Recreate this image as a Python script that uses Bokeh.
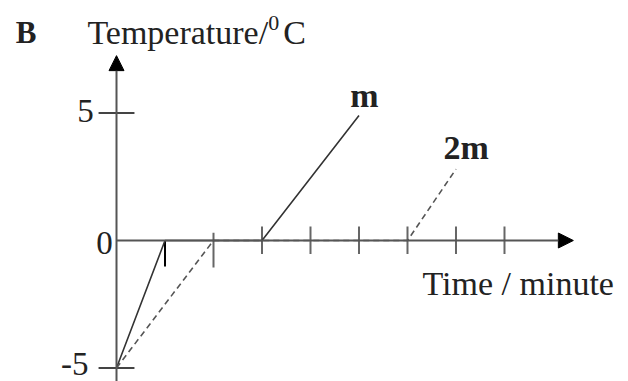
from bokeh.plotting import figure
from bokeh.models import Range1d, Arrow, NormalHead
from bokeh.core.properties import value
from bokeh.embed import file_html
from bokeh.resources import INLINE

# --- data (time in minutes, temperature in deg C) ---
m_time = [0, 1, 3, 5]
m_temp = [-5, 0, 0, 4.9]
m2_time = [0, 2, 6, 7]
m2_temp = [-5, 0, 0, 2.8]
x_ticks = [1, 2, 3, 4, 5, 6, 7, 8]
y_ticks = [5, -5]
y_tick_labels = ["5", "0", "-5"]
y_tick_label_vals = [5, 0, -5]

FONT = value("Liberation Serif")
DY = 0.41  # text baseline correction (data units)

p = figure(width=628, height=381, output_backend="svg", toolbar_location=None,
           x_range=Range1d(-2.392, 10.557), y_range=Range1d(-5.529, 9.412),
           min_border=0, outline_line_color=None)
p.axis.visible = False
p.grid.visible = False

# axes with arrows
p.add_layout(Arrow(x_start=0, y_start=-5.55, x_end=0, y_end=7.25,
                   line_color="#555555", line_width=2,
                   end=NormalHead(size=15, fill_color="black", line_color="black")))
p.add_layout(Arrow(x_start=0, y_start=0, x_end=9.42, y_end=0,
                   line_color="#555555", line_width=2,
                   end=NormalHead(size=15, fill_color="black", line_color="black")))

# y ticks
p.segment(x0=[-0.37] * len(y_ticks), x1=[0.37] * len(y_ticks), y0=y_ticks, y1=y_ticks,
          line_color="#444444", line_width=2)
# x ticks
tick_top = [0.0, 0.3] + [0.55] * (len(x_ticks) - 2)
tick_bot = [-1.02, -1.06] + [-0.53] * (len(x_ticks) - 2)
tick_col = ["black"] + ["#666666"] * (len(x_ticks) - 1)
p.segment(x0=x_ticks, x1=x_ticks, y0=tick_top, y1=tick_bot,
          line_color=tick_col, line_width=2)

# data lines
p.line(m_time, m_temp, line_color="#333333", line_width=1.6)
p.line(m2_time, m2_temp, line_color="#555555", line_width=1.6, line_dash="6 4")

# tick labels
label_x = [-0.47, -0.08, -0.58]
label_dy = [-0.33, -0.49, -0.25]
p.text(x=label_x, y=[v + d + DY for v, d in zip(y_tick_label_vals, label_dy)], text=y_tick_labels,
       text_font=FONT, text_font_size="33px", text_align="right",
       text_baseline="alphabetic", text_color="#222222")

# titles / labels
p.text(x=[-2.08], y=[7.76 + DY], text=["B"], text_font=FONT, text_font_size="31px",
       text_font_style="bold", text_baseline="alphabetic", text_color="#222222")
p.text(x=[-0.60], y=[7.73 + DY], text=["Temperature/"], text_font=FONT, text_font_size="34px",
       text_baseline="alphabetic", text_color="#222222")
p.text(x=[3.13], y=[8.12 + DY], text=["0"], text_font=FONT, text_font_size="22px",
       text_baseline="alphabetic", text_color="#222222")
p.text(x=[3.44], y=[7.73 + DY], text=["C"], text_font=FONT, text_font_size="34px",
       text_baseline="alphabetic", text_color="#222222")
p.text(x=[6.31], y=[-2.08 + DY], text=["Time / minute"], text_font=FONT, text_font_size="34px",
       text_baseline="alphabetic", text_color="#222222")
p.text(x=[4.82], y=[5.29 + DY], text=["m"], text_font=FONT, text_font_size="34px",
       text_font_style="bold", text_baseline="alphabetic", text_color="#222222")
p.text(x=[6.74], y=[3.25 + DY], text=["2m"], text_font=FONT, text_font_size="34px",
       text_font_style="bold", text_baseline="alphabetic", text_color="#222222")

open("out.html", "w").write(file_html(p, INLINE))
